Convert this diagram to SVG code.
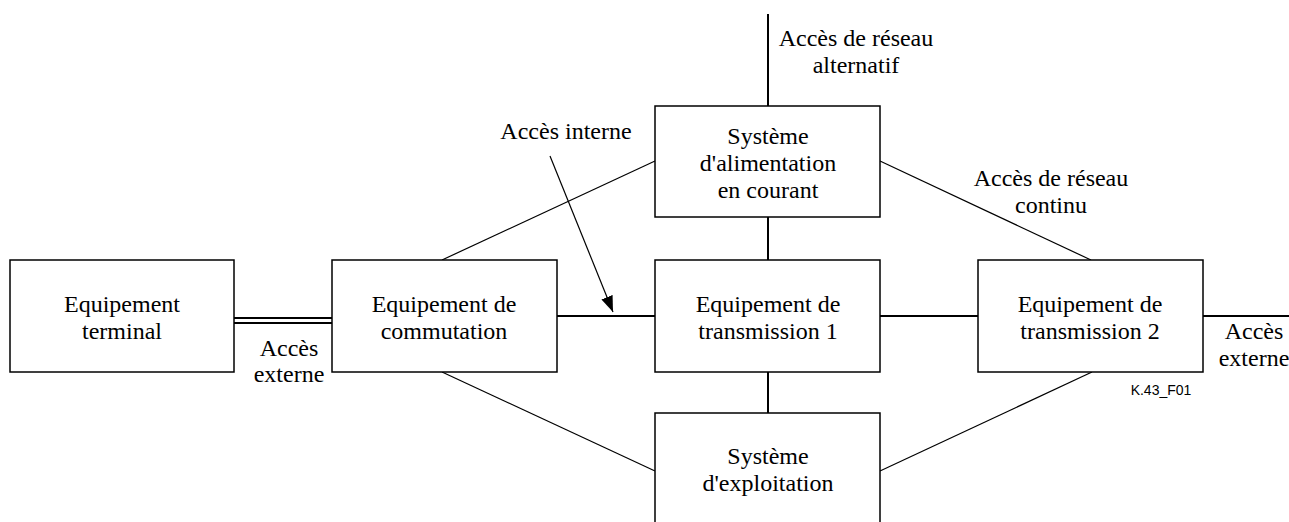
<svg xmlns="http://www.w3.org/2000/svg" width="1289" height="522" viewBox="0 0 1289 522">
<style>
.box{fill:#fff;stroke:#000;stroke-width:1.5}
.t{font-size:24px;fill:#000;text-anchor:middle}
.thick{stroke:#000;stroke-width:2;fill:none}
.thin{stroke:#000;stroke-width:1.2;fill:none}
</style>
<defs>
<marker id="ah" markerWidth="16" markerHeight="12" refX="16" refY="6" orient="auto" markerUnits="userSpaceOnUse">
<path d="M0,0 L16,6 L0,12 Z" fill="#000"/>
</marker>
</defs>
<rect width="1289" height="522" fill="#fff"/>
<g id="connectors">
<line class="thick" x1="234" y1="318" x2="332" y2="318"/>
<line class="thick" x1="234" y1="323" x2="332" y2="323"/>
<line class="thick" x1="557" y1="316" x2="655" y2="316"/>
<line class="thick" x1="880" y1="316" x2="978" y2="316"/>
<line class="thick" x1="1203" y1="316" x2="1289" y2="316"/>
<line class="thick" x1="768" y1="14" x2="768" y2="106"/>
<line class="thick" x1="768" y1="217" x2="768" y2="260"/>
<line class="thick" x1="768" y1="372" x2="768" y2="413"/>
<line class="thin" x1="442" y1="260" x2="655" y2="161"/>
<line class="thin" x1="880" y1="161" x2="1091" y2="260"/>
<line class="thin" x1="442" y1="372" x2="655" y2="471"/>
<line class="thin" x1="880" y1="471" x2="1092" y2="372"/>
<line class="thin" x1="550" y1="156" x2="613" y2="312" marker-end="url(#ah)"/>
</g>
<g font-family="Liberation Serif, serif">
<g id="terminal">
<rect class="box" x="10" y="260" width="224" height="112"/>
<text class="t" x="122" y="312">Equipement</text>
<text class="t" x="122" y="339">terminal</text>
</g>
<g id="commutation">
<rect class="box" x="332" y="260" width="225" height="112"/>
<text class="t" x="444" y="312">Equipement de</text>
<text class="t" x="444" y="339">commutation</text>
</g>
<g id="transmission1">
<rect class="box" x="655" y="260" width="225" height="112"/>
<text class="t" x="768" y="312">Equipement de</text>
<text class="t" x="768" y="339">transmission 1</text>
</g>
<g id="transmission2">
<rect class="box" x="978" y="260" width="225" height="112"/>
<text class="t" x="1090" y="312">Equipement de</text>
<text class="t" x="1090" y="339">transmission 2</text>
</g>
<g id="alimentation">
<rect class="box" x="655" y="106" width="225" height="111"/>
<text class="t" x="768" y="144">Système</text>
<text class="t" x="768" y="171">d'alimentation</text>
<text class="t" x="768" y="198">en courant</text>
</g>
<g id="exploitation">
<path class="box" d="M655,530 L655,413 L880,413 L880,530"/>
<text class="t" x="768" y="464">Système</text>
<text class="t" x="768" y="491">d'exploitation</text>
</g>
<g id="labels">
<text class="t" x="856" y="46">Accès de réseau</text>
<text class="t" x="856" y="73">alternatif</text>
<text class="t" x="566" y="139">Accès interne</text>
<text class="t" x="1051" y="186">Accès de réseau</text>
<text class="t" x="1051" y="213">continu</text>
<text class="t" x="289" y="356">Accès</text>
<text class="t" x="289" y="382">externe</text>
<text class="t" x="1254" y="339">Accès</text>
<text class="t" x="1254" y="366">externe</text>
<text x="1161" y="395" font-family="Liberation Sans, sans-serif" font-size="14" text-anchor="middle">K.43_F01</text>
</g>
</g>
</svg>
